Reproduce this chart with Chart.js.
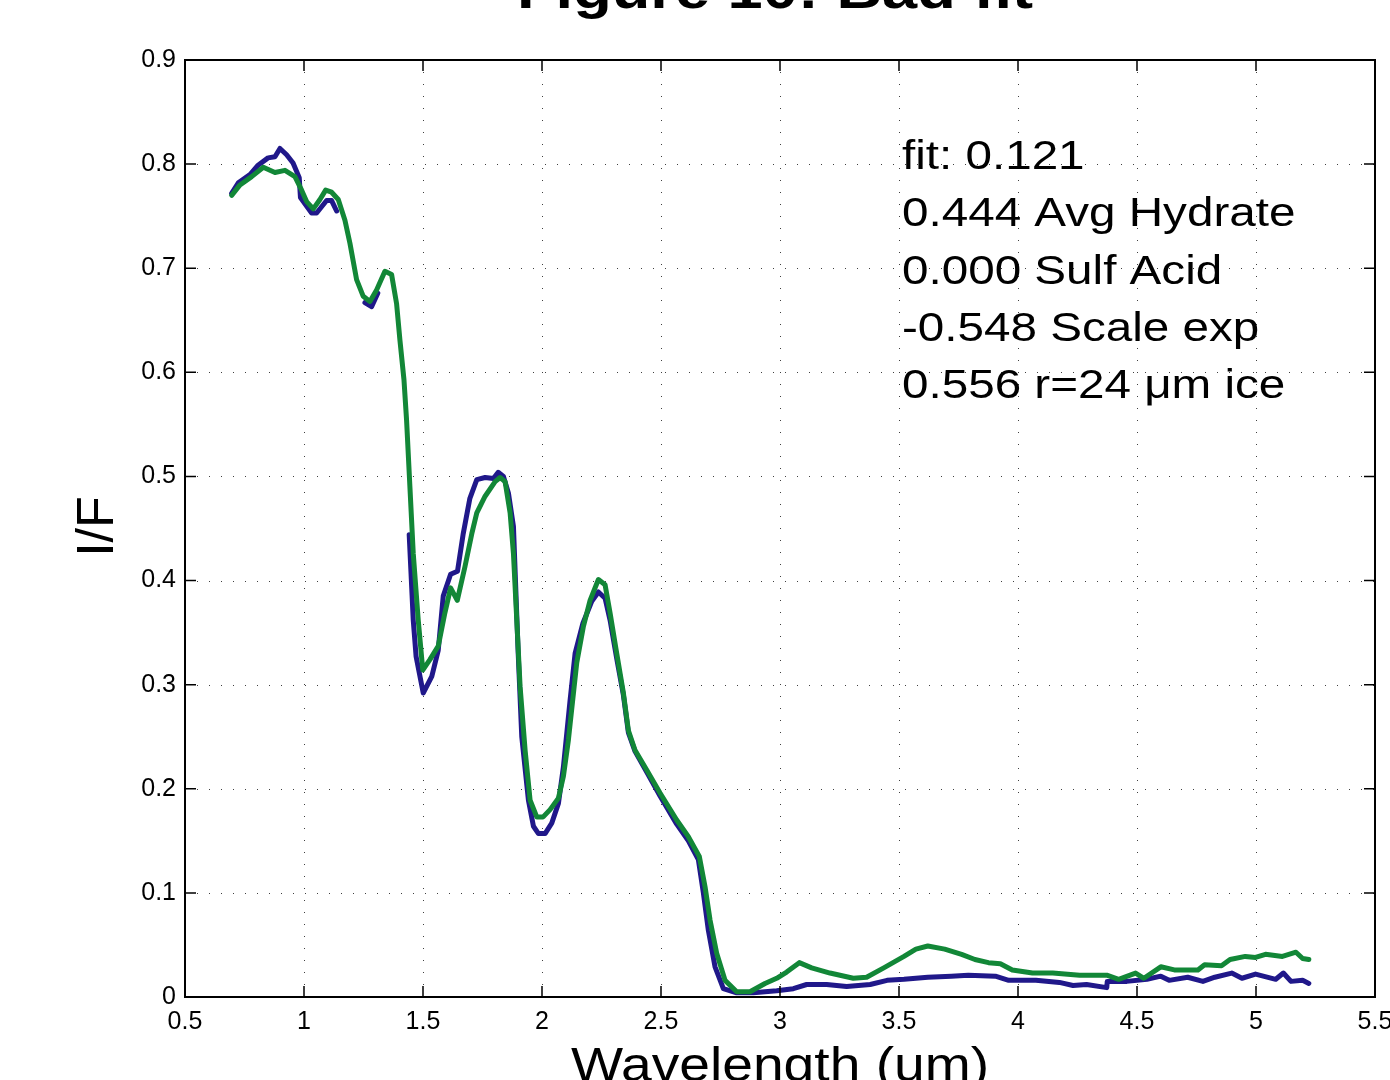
<!DOCTYPE html>
<html>
<head>
<meta charset="utf-8">
<title>Figure 10: Bad fit</title>
<script src="https://cdn.jsdelivr.net/npm/chart.js@4.4.1/dist/chart.umd.min.js"></script>
<style>
  body { margin: 0; background: #fff; }
  #wrap { width: 1390px; height: 1080px; }
</style>
</head>
<body>
<div id="wrap"><canvas id="fig" width="1390" height="1080"></canvas></div>
<script>
// wavelength (um) and I/F
const fitX = [0.696, 0.731, 0.780, 0.829, 0.878, 0.920, 0.962, 0.990, 1.011, 1.039, 1.067, 1.091, 1.116, 1.144, 1.172, 1.193, 1.221, 1.249, 1.277, 1.305, 1.340, 1.368, 1.389, 1.403, 1.420, 1.431, 1.445, 1.459, 1.480, 1.499, 1.529, 1.564, 1.592, 1.616, 1.644, 1.676, 1.705, 1.726, 1.761, 1.803, 1.824, 1.845, 1.866, 1.880, 1.894, 1.908, 1.929, 1.950, 1.978, 2.005, 2.034, 2.069, 2.090, 2.111, 2.118, 2.146, 2.174, 2.202, 2.237, 2.265, 2.286, 2.314, 2.342, 2.363, 2.391, 2.440, 2.496, 2.566, 2.615, 2.661, 2.685, 2.706, 2.734, 2.769, 2.818, 2.874, 2.937, 2.986, 3.028, 3.081, 3.133, 3.210, 3.308, 3.364, 3.436, 3.521, 3.571, 3.621, 3.692, 3.763, 3.819, 3.876, 3.926, 3.976, 4.061, 4.146, 4.259, 4.373, 4.423, 4.494, 4.529, 4.600, 4.657, 4.756, 4.784, 4.855, 4.891, 4.955, 4.998, 5.040, 5.111, 5.168, 5.196, 5.222];
const fitY = [0.770, 0.780, 0.788, 0.797, 0.792, 0.794, 0.788, 0.775, 0.764, 0.757, 0.766, 0.775, 0.773, 0.766, 0.746, 0.724, 0.689, 0.673, 0.668, 0.679, 0.697, 0.694, 0.666, 0.631, 0.593, 0.554, 0.490, 0.426, 0.362, 0.314, 0.324, 0.337, 0.369, 0.393, 0.381, 0.413, 0.445, 0.465, 0.481, 0.495, 0.499, 0.495, 0.465, 0.426, 0.362, 0.298, 0.237, 0.189, 0.173, 0.173, 0.180, 0.191, 0.212, 0.247, 0.262, 0.321, 0.356, 0.381, 0.401, 0.396, 0.369, 0.330, 0.292, 0.256, 0.237, 0.218, 0.196, 0.170, 0.154, 0.135, 0.106, 0.074, 0.042, 0.016, 0.005, 0.005, 0.013, 0.018, 0.024, 0.033, 0.028, 0.023, 0.018, 0.019, 0.028, 0.039, 0.046, 0.049, 0.046, 0.041, 0.036, 0.033, 0.032, 0.026, 0.023, 0.023, 0.021, 0.021, 0.017, 0.023, 0.018, 0.029, 0.026, 0.026, 0.031, 0.030, 0.036, 0.039, 0.038, 0.041, 0.039, 0.043, 0.037, 0.036];

// measured spectrum, null = gap in the data
const dataX = [0.696, 0.724, 0.773, 0.807, 0.849, 0.878, 0.899, 0.927, 0.954, 0.980, 0.985, 1.032, 1.053, 1.095, 1.116, 1.137, 1.20, 1.256, 1.284, 1.310, 1.38, 1.442, 1.459, 1.471, 1.501, 1.537, 1.564, 1.585, 1.616, 1.645, 1.669, 1.697, 1.726, 1.761, 1.796, 1.816, 1.838, 1.859, 1.880, 1.900, 1.915, 1.943, 1.964, 1.985, 2.013, 2.041, 2.069, 2.090, 2.118, 2.139, 2.172, 2.209, 2.237, 2.265, 2.286, 2.314, 2.342, 2.363, 2.391, 2.440, 2.496, 2.566, 2.615, 2.657, 2.678, 2.699, 2.727, 2.762, 2.818, 2.888, 2.986, 3.056, 3.112, 3.196, 3.280, 3.379, 3.450, 3.521, 3.621, 3.720, 3.791, 3.905, 3.961, 4.075, 4.174, 4.231, 4.288, 4.373, 4.375, 4.457, 4.542, 4.600, 4.635, 4.713, 4.777, 4.827, 4.898, 4.941, 4.998, 5.083, 5.115, 5.147, 5.196, 5.222];
const dataY = [0.772, 0.782, 0.790, 0.799, 0.806, 0.807, 0.815, 0.809, 0.801, 0.787, 0.768, 0.753, 0.753, 0.765, 0.765, 0.755, null, 0.667, 0.663, 0.676, null, 0.444, 0.362, 0.327, 0.292, 0.308, 0.333, 0.385, 0.406, 0.409, 0.445, 0.479, 0.497, 0.499, 0.498, 0.504, 0.500, 0.484, 0.452, 0.330, 0.250, 0.189, 0.164, 0.157, 0.157, 0.167, 0.186, 0.221, 0.285, 0.330, 0.359, 0.380, 0.389, 0.383, 0.362, 0.325, 0.290, 0.254, 0.236, 0.216, 0.193, 0.166, 0.150, 0.132, 0.100, 0.064, 0.029, 0.008, 0.004, 0.004, 0.006, 0.008, 0.012, 0.012, 0.010, 0.012, 0.016, 0.017, 0.019, 0.020, 0.021, 0.020, 0.016, 0.016, 0.014, 0.011, 0.012, 0.009, 0.015, 0.015, 0.017, 0.020, 0.016, 0.019, 0.015, 0.019, 0.023, 0.018, 0.022, 0.017, 0.023, 0.015, 0.016, 0.013];

const xTicks = [0.5, 1, 1.5, 2, 2.5, 3, 3.5, 4, 4.5, 5, 5.5];
const xTickLabels = ["0.5", "1", "1.5", "2", "2.5", "3", "3.5", "4", "4.5", "5", "5.5"];
const yTicks = [0, 0.1, 0.2, 0.3, 0.4, 0.5, 0.6, 0.7, 0.8, 0.9];
const yTickLabels = ["0", "0.1", "0.2", "0.3", "0.4", "0.5", "0.6", "0.7", "0.8", "0.9"];

const titleText = "Figure 10: Bad fit";
const xLabel = "Wavelength (um)";
const yLabel = "I/F";
const fitNotes = ["fit: 0.121", "0.444 Avg Hydrate", "0.000 Sulf Acid", "-0.548 Scale exp", "0.556 r=24 \u03bcm ice"];

const FONT = '"Liberation Sans", Arial, Helvetica, sans-serif';

function toPoints(xs, ys) {
  return xs.map((x, i) => ({ x: x, y: ys[i] }));
}

// the original figure's text is a little wider than it is tall
function stretchedText(ctx, text, x, y, font, align, sx) {
  ctx.save();
  ctx.translate(x, y);
  ctx.scale(sx, 1);
  ctx.font = font;
  ctx.textAlign = align;
  ctx.textBaseline = "alphabetic";
  ctx.fillStyle = "#000";
  ctx.fillText(text, 0, 0);
  ctx.restore();
}

// matlab style box: dotted grid, inward ticks, text
const matlabAxes = {
  id: "matlabAxes",
  beforeDatasetsDraw(chart) {
    const { ctx, chartArea: a, scales } = chart;
    ctx.save();
    ctx.strokeStyle = "rgba(0,0,0,0.75)";
    ctx.lineWidth = 1;
    ctx.setLineDash([1, 11]);
    xTicks.forEach(v => {
      const px = Math.round(scales.x.getPixelForValue(v)) + 0.5;
      if (px < a.left + 2 || px > a.right - 2) return;
      ctx.beginPath();
      ctx.moveTo(px, a.bottom);
      ctx.lineTo(px, a.top);
      ctx.stroke();
    });
    yTicks.forEach(v => {
      const py = Math.round(scales.y.getPixelForValue(v)) + 0.5;
      if (py < a.top + 2 || py > a.bottom - 2) return;
      ctx.beginPath();
      ctx.moveTo(a.left, py);
      ctx.lineTo(a.right, py);
      ctx.stroke();
    });
    ctx.restore();
  },
  afterDatasetsDraw(chart) {
    const { ctx, chartArea: a, scales } = chart;
    ctx.save();
    ctx.strokeStyle = "#000";
    ctx.lineWidth = 2;
    ctx.strokeRect(a.left, a.top, a.right - a.left, a.bottom - a.top);
    ctx.lineWidth = 1.5;
    const tl = 11;
    xTicks.forEach(v => {
      const px = scales.x.getPixelForValue(v);
      ctx.beginPath();
      ctx.moveTo(px, a.bottom); ctx.lineTo(px, a.bottom - tl);
      ctx.moveTo(px, a.top); ctx.lineTo(px, a.top + tl);
      ctx.stroke();
    });
    yTicks.forEach(v => {
      const py = scales.y.getPixelForValue(v);
      ctx.beginPath();
      ctx.moveTo(a.left, py); ctx.lineTo(a.left + tl, py);
      ctx.moveTo(a.right, py); ctx.lineTo(a.right - tl, py);
      ctx.stroke();
    });
    ctx.restore();

    // fit summary
    fitNotes.forEach((t, i) => {
      stretchedText(ctx, t, 902, 169 + i * 57.3, "40px " + FONT, "left", 1.19);
    });
  },
  afterDraw(chart) {
    const { ctx, chartArea: a } = chart;
    const cx = (a.left + a.right) / 2;
    stretchedText(ctx, titleText, cx - 5, 8, "bold 54px " + FONT, "center", 1.17);
    stretchedText(ctx, xLabel, cx, 1081, "48px " + FONT, "center", 1.15);
    ctx.save();
    ctx.translate(113, (a.top + a.bottom) / 2 - 2);
    ctx.rotate(-Math.PI / 2);
    ctx.font = "52px " + FONT;
    ctx.textAlign = "center";
    ctx.fillStyle = "#000";
    ctx.fillText(yLabel, 0, 0);
    ctx.restore();
  }
};

new Chart(document.getElementById("fig"), {
  type: "scatter",
  data: {
    datasets: [
      {
        label: "data",
        data: toPoints(dataX, dataY),
        showLine: true,
        spanGaps: false,
        borderColor: "#20188a",
        borderWidth: 5,
        pointRadius: 0,
        tension: 0,
        borderJoinStyle: "round",
        borderCapStyle: "round",
        order: 2
      },
      {
        label: "fit",
        data: toPoints(fitX, fitY),
        showLine: true,
        borderColor: "#128737",
        borderWidth: 5,
        pointRadius: 0,
        tension: 0,
        borderJoinStyle: "round",
        borderCapStyle: "round",
        order: 1
      }
    ]
  },
  options: {
    responsive: false,
    animation: false,
    layout: { padding: { top: 60, right: 15, left: 0, bottom: 0 } },
    plugins: {
      legend: { display: false },
      tooltip: { enabled: false }
    },
    scales: {
      x: {
        type: "linear",
        min: 0.5,
        max: 5.5,
        grid: { display: false, drawTicks: false },
        border: { display: false },
        afterBuildTicks: s => { s.ticks = xTicks.map(v => ({ value: v })); },
        afterFit: s => { s.height = 83; s.paddingLeft = 0; s.paddingRight = 0; },
        ticks: {
          autoSkip: false,
          maxRotation: 0,
          padding: 10,
          color: "#000",
          font: { family: FONT, size: 25 },
          callback: (v, i) => xTickLabels[i]
        }
      },
      y: {
        min: 0,
        max: 0.9,
        grid: { display: false, drawTicks: false },
        border: { display: false },
        afterBuildTicks: s => { s.ticks = yTicks.map(v => ({ value: v })); },
        afterFit: s => { s.width = 185; s.paddingTop = 0; s.paddingBottom = 0; },
        ticks: {
          autoSkip: false,
          padding: 9,
          color: "#000",
          font: { family: FONT, size: 25 },
          callback: (v, i) => yTickLabels[i]
        }
      }
    }
  },
  plugins: [matlabAxes]
});
</script>
</body>
</html>
